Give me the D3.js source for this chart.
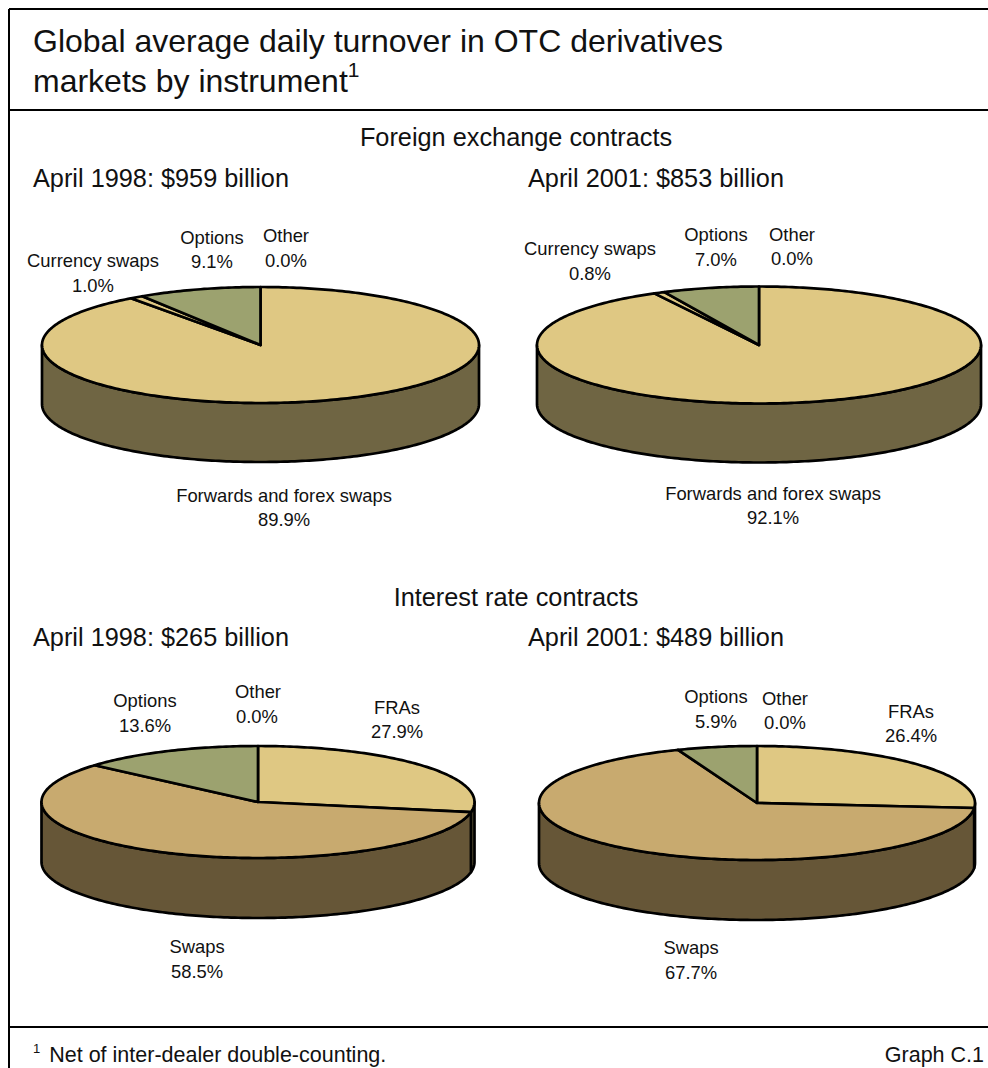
<!DOCTYPE html>
<html>
<head>
<meta charset="utf-8">
<script src="https://cdn.jsdelivr.net/npm/d3@7/dist/d3.min.js"></script>
<style>
html,body{margin:0;padding:0;background:#fff}
svg{display:block}
text{font-family:"Liberation Sans",Arial,sans-serif;fill:#111}
</style>
</head>
<body>
<script>
// Turnover shares, in per cent, listed clockwise from twelve o'clock
const fxCategories = ["Forwards and forex swaps", "Currency swaps", "Options", "Other"];
const irCategories = ["FRAs", "Swaps", "Options", "Other"];
const fx1998 = [89.9, 1.0, 9.1, 0.0];
const fx2001 = [92.1, 0.8, 7.0, 0.0];
const ir1998 = [27.9, 58.5, 13.6, 0.0];
const ir2001 = [26.4, 67.7, 5.9, 0.0];

const fxTopColours = ["#dfc883", "#dfc883", "#9ca26f", "#9ca26f"];
const irTopColours = ["#dfc883", "#c8aa6f", "#9ca26f", "#9ca26f"];
const fxSideColours = ["#6f6543", "#6f6543", "#5e6143", "#5e6143"];
const irSideColours = ["#6f6543", "#665637", "#5e6143", "#5e6143"];

const titleLines = ["Global average daily turnover in OTC derivatives", "markets by instrument"];
const sectionTitles = ["Foreign exchange contracts", "Interest rate contracts"];
const pieTitles = ["April 1998: $959 billion", "April 2001: $853 billion", "April 1998: $265 billion", "April 2001: $489 billion"];

const W = 988, H = 1068;
const svg = d3.select("body").append("svg").attr("width", W).attr("height", H);

// Frame and the rules under the title and above the footnote
const rules = [[9, 9, W, 9], [9, 9, 9, H], [9, 110, W, 110], [9, 1027, W, 1027]];
svg.selectAll("line.rule").data(rules).join("line").attr("class", "rule")
  .attr("x1", d => d[0]).attr("y1", d => d[1]).attr("x2", d => d[2]).attr("y2", d => d[3])
  .attr("stroke", "#000").attr("stroke-width", 2);

function label(x, y, str, size, anchor) {
  return svg.append("text").attr("x", x).attr("y", y).attr("font-size", size)
    .attr("text-anchor", anchor || "start").text(str);
}

label(33, 52, titleLines[0], 32);
const t2 = label(33, 92, titleLines[1], 32);
t2.append("tspan").attr("font-size", 21).attr("dy", -15).text("1");

label(516, 146, sectionTitles[0], 25.3, "middle");
label(516, 606, sectionTitles[1], 25.3, "middle");
label(33, 187, pieTitles[0], 25.3);
label(528, 187, pieTitles[1], 25.3);
label(33, 646, pieTitles[2], 25.3);
label(528, 646, pieTitles[3], 25.3);

const pies = [
  {values: fx1998, names: fxCategories, top: fxTopColours, side: fxSideColours, cx: 260.5, cy: 345, rx: 218.5, ry: 58, depth: 59,
   labels: [[284, 502], [93, 267], [212, 244], [286, 242]], values_y: [[284, 526], [93, 292], [212, 268], [286, 267]]},
  {values: fx2001, names: fxCategories, top: fxTopColours, side: fxSideColours, cx: 759, cy: 345, rx: 222, ry: 58.5, depth: 59,
   labels: [[773, 500], [590, 255], [716, 241], [792, 241]], values_y: [[773, 524], [590, 280], [716, 266], [792, 265]]},
  {values: ir1998, names: irCategories, top: irTopColours, side: irSideColours, cx: 258, cy: 802, rx: 216.5, ry: 56, depth: 60,
   labels: [[397, 714], [197, 953], [145, 707], [258, 698]], values_y: [[397, 738], [197, 978], [145, 732], [257, 723]]},
  {values: ir2001, names: irCategories, top: irTopColours, side: irSideColours, cx: 757, cy: 803, rx: 218, ry: 57, depth: 60,
   labels: [[911, 718], [691, 954], [716, 703], [785, 705]], values_y: [[911, 742], [691, 979], [716, 728], [785, 729]]}
];

const fmt = d3.format(".1f");
const pieLayout = d3.pie().sort(null).startAngle(0).endAngle(2 * Math.PI);

pies.forEach(p => {
  const x = d3.scaleLinear().domain([-1, 1]).range([p.cx - p.rx, p.cx + p.rx]);
  const y = d3.scaleLinear().domain([-1, 1]).range([p.cy - p.ry, p.cy + p.ry]);
  const line = d3.line();
  const rim = (a, drop) => [x(Math.sin(a)), y(-Math.cos(a)) + drop];
  const sweep = (a0, a1, drop) => {
    const n = Math.max(2, Math.ceil(Math.abs(a1 - a0) * 60));
    return d3.range(n + 1).map(i => rim(a0 + (a1 - a0) * i / n, drop));
  };
  const arcs = pieLayout(p.values);
  const g = svg.append("g").attr("stroke", "#000").attr("stroke-width", 2.7).attr("stroke-linejoin", "round");

  // Side wall: only the part of each slice on the front half of the disc shows
  arcs.forEach((d, i) => {
    const a0 = Math.max(d.startAngle, Math.PI / 2), a1 = Math.min(d.endAngle, 3 * Math.PI / 2);
    if (a1 <= a0) return;
    const pts = sweep(a0, a1, 0).concat(sweep(a1, a0, p.depth));
    g.append("path").attr("d", line(pts) + "Z").attr("fill", p.side[i]);
  });

  // Top face
  arcs.forEach((d, i) => {
    if (d.endAngle - d.startAngle <= 0) return;
    const pts = [[x(0), y(0)]].concat(sweep(d.startAngle, d.endAngle, 0));
    g.append("path").attr("d", line(pts) + "Z").attr("fill", p.top[i]);
  });

  // Category name over its percentage
  p.names.forEach((name, i) => {
    label(p.labels[i][0], p.labels[i][1], name, 18.4, "middle");
    label(p.values_y[i][0], p.values_y[i][1], fmt(p.values[i]) + "%", 18.4, "middle");
  });
});

// Footnote
const note = label(33, 1062, "", 21.5);
note.append("tspan").attr("font-size", 13).attr("dy", -9).text("1");
note.append("tspan").attr("dy", 9).attr("dx", 9).text("Net of inter-dealer double-counting.");
label(984, 1062, "Graph C.1", 21.5, "end");
</script>
</body>
</html>
